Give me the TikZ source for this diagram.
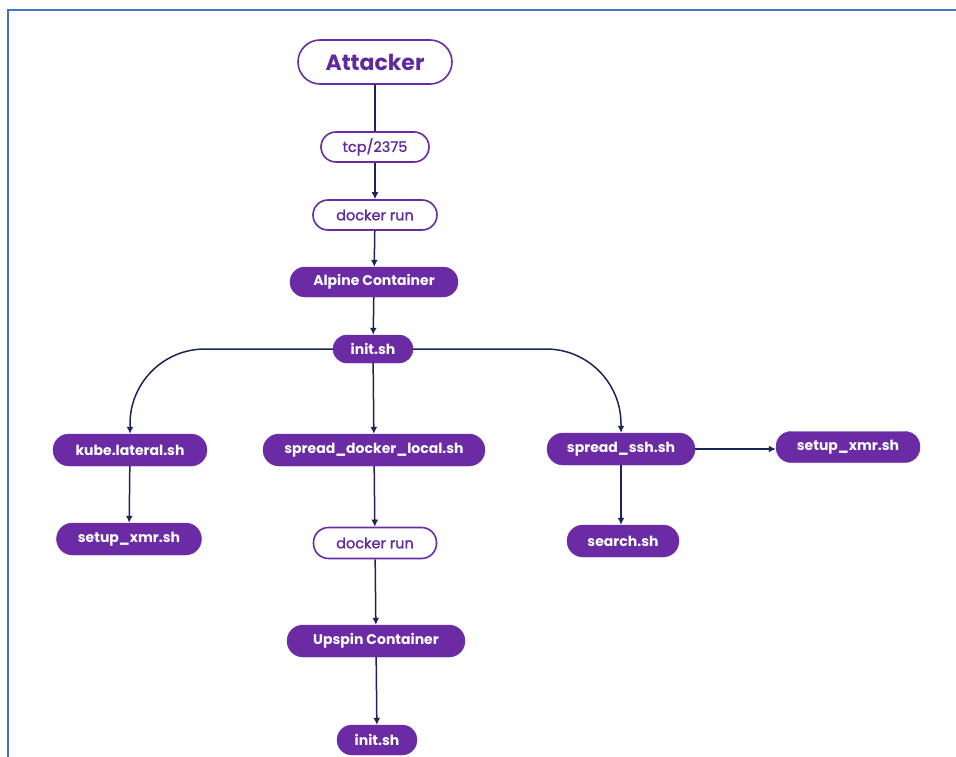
\documentclass[tikz,border=0pt]{standalone}
\usepackage{fontspec}
\setmainfont{Poppins}
\newfontfamily\popmed{Poppins}[FakeBold=1.2]
\usetikzlibrary{arrows.meta}
\definecolor{pur}{HTML}{6A2BA5}
\definecolor{purtxt}{HTML}{5E2A9C}
\definecolor{navy}{HTML}{1C2557}
\definecolor{frameblue}{HTML}{4472C4}
\tikzset{
  base/.style={rounded corners=15, minimum height=30, inner sep=0pt, align=center},
  hollow/.style={base, draw=pur, line width=1.6pt, fill=white, text=purtxt, font=\popmed\fontsize{14.5}{16}\selectfont},
  solid/.style={base, draw=pur, fill=pur, text=white, font=\bfseries\fontsize{14}{16}\selectfont},
  conn/.style={draw=navy, line width=1.5pt},
  arr/.style={conn, -{Latex[length=7pt,width=7pt]}},
}
\begin{document}
\begin{tikzpicture}[x=1pt,y=-1pt]
\useasboundingbox (0,0) rectangle (956,757);
\fill[white] (0,0) rectangle (956,757);
\draw[frameblue, line width=2pt] (8,757) -- (8,10) -- (956,10);

\node[hollow, minimum width=154, minimum height=44, rounded corners=22, font=\bfseries\fontsize{22}{24}\selectfont] (att) at (375,62) {Attacker};
\node[hollow, minimum width=108] (tcp) at (375,147) {tcp/2375};
\node[hollow, minimum width=124] (dr1) at (375,215) {docker run};
\node[solid, minimum width=168] (alp) at (374,282) {Alpine Container};
\node[solid, minimum width=80, minimum height=28, rounded corners=14] (init1) at (373,349) {init.sh};
\node[solid, minimum width=154, minimum height=32, rounded corners=16] (kube) at (130,450) {kube.lateral.sh};
\node[solid, minimum width=222, minimum height=32, rounded corners=16] (sdl) at (374,450) {spread\_docker\_local.sh};
\node[solid, minimum width=148, minimum height=32, rounded corners=16] (ssh) at (621,449) {spread\_ssh.sh};
\node[solid, minimum width=144, minimum height=31, rounded corners=15] (xmr2) at (848,447) {setup\_xmr.sh};
\node[solid, minimum width=145, minimum height=32, rounded corners=16] (xmr1) at (129,539) {setup\_xmr.sh};
\node[solid, minimum width=112, minimum height=32, rounded corners=16] (search) at (623,541) {search.sh};
\node[hollow, minimum width=123, minimum height=31] (dr2) at (375,543) {docker run};
\node[solid, minimum width=178, minimum height=32, rounded corners=16] (ups) at (376,641) {Upspin Container};
\node[solid, minimum width=80, minimum height=30] (init2) at (377,740) {init.sh};

\draw[conn] (att) -- (tcp);
\draw[arr] (tcp) -- (dr1);
\draw[arr] (dr1) -- (alp);
\draw[arr] (alp) -- (init1);
\draw[arr, rounded corners=75] (init1.west) -| (kube.north);
\draw[arr, rounded corners=75] (init1.east) -| (ssh.north);
\draw[arr] (init1) -- (sdl);
\draw[arr] (kube) -- (xmr1);
\draw[arr] (sdl) -- (dr2);
\draw[arr] (dr2) -- (ups);
\draw[arr] (ups) -- (init2);
\draw[arr] (ssh.east) -- (xmr2.west |- ssh.east);
\draw[arr] (ssh) -- (ssh |- search.north);
\end{tikzpicture}
\end{document}
